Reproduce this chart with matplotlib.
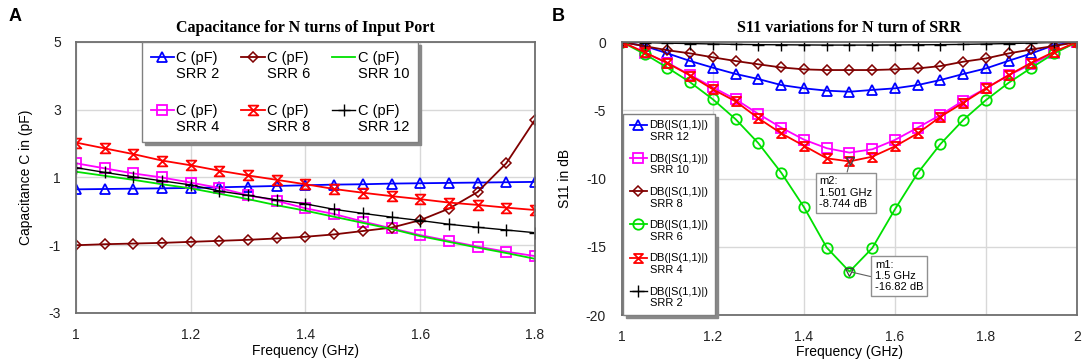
import numpy as np
import matplotlib
matplotlib.use("Agg")
import matplotlib.pyplot as plt
from matplotlib.path import Path
from matplotlib.legend_handler import HandlerLine2D
from matplotlib.transforms import Affine2D

plt.rcParams['font.family'] = ['Liberation Sans', 'DejaVu Sans']

# ---------------- data: panel A ----------------
freq_a = [1.00, 1.05, 1.10, 1.15, 1.20, 1.25, 1.30, 1.35, 1.40,
          1.45, 1.50, 1.55, 1.60, 1.65, 1.70, 1.75, 1.80]
cap_srr2 = [0.65, 0.66, 0.67, 0.68, 0.69, 0.71, 0.73, 0.75, 0.77,
            0.79, 0.80, 0.82, 0.83, 0.84, 0.85, 0.86, 0.87]
cap_srr4 = [1.42, 1.27, 1.12, 1.00, 0.85, 0.69, 0.48, 0.31, 0.09,
            -0.08, -0.30, -0.50, -0.70, -0.87, -1.04, -1.19, -1.32]
cap_srr6 = [-1.00, -0.97, -0.95, -0.93, -0.90, -0.87, -0.84, -0.80, -0.75,
            -0.68, -0.58, -0.48, -0.26, 0.08, 0.57, 1.42, 2.70]
cap_srr8 = [2.03, 1.86, 1.69, 1.50, 1.36, 1.20, 1.06, 0.93, 0.80,
            0.66, 0.55, 0.45, 0.36, 0.26, 0.19, 0.11, 0.04]
cap_srr10 = [1.17, 1.05, 0.93, 0.80, 0.68, 0.52, 0.36, 0.18, 0.02,
             -0.16, -0.34, -0.52, -0.73, -0.90, -1.07, -1.23, -1.40]
cap_srr12 = [1.29, 1.15, 1.02, 0.90, 0.78, 0.60, 0.47, 0.34, 0.22,
             0.06, -0.06, -0.17, -0.27, -0.38, -0.47, -0.55, -0.63]

# ---------------- data: panel B ----------------
freq_b = [1.00, 1.05, 1.10, 1.15, 1.20, 1.25, 1.30, 1.35, 1.40, 1.45, 1.50,
          1.55, 1.60, 1.65, 1.70, 1.75, 1.80, 1.85, 1.90, 1.95, 2.00]
s11_srr12 = [0.0, -0.29, -0.83, -1.39, -1.88, -2.34, -2.71, -3.15, -3.39, -3.56, -3.64,
             -3.51, -3.39, -3.15, -2.78, -2.34, -1.93, -1.37, -0.83, -0.22, 0.0]
s11_srr10 = [0.0, -0.78, -1.51, -2.42, -3.32, -4.20, -5.27, -6.27, -7.15, -7.78, -8.10,
             -7.86, -7.17, -6.27, -5.34, -4.30, -3.39, -2.42, -1.63, -0.78, 0.0]
s11_srr8 = [0.0, -0.30, -0.60, -0.83, -1.12, -1.39, -1.63, -1.86, -2.00, -2.05, -2.05,
            -2.05, -2.00, -1.93, -1.76, -1.44, -1.20, -0.83, -0.54, -0.29, 0.0]
s11_srr6 = [0.0, -0.88, -1.88, -2.95, -4.20, -5.66, -7.42, -9.57, -12.10, -15.06, -16.82,
            -15.10, -12.25, -9.60, -7.47, -5.71, -4.25, -2.98, -1.88, -0.83, 0.0]
s11_srr4 = [0.0, -0.75, -1.55, -2.45, -3.47, -4.35, -5.59, -6.69, -7.60, -8.52, -8.744,
            -8.40, -7.64, -6.69, -5.47, -4.45, -3.39, -2.42, -1.51, -0.71, 0.0]
s11_srr2 = [0.0, -0.04, -0.08, -0.11, -0.14, -0.17, -0.19, -0.20, -0.21, -0.22, -0.22,
            -0.22, -0.21, -0.20, -0.19, -0.17, -0.14, -0.11, -0.07, -0.03, 0.0]

BLUE = '#0000ff'
MAG = '#ff00ff'
DRED = '#800000'
GREEN = '#00e000'
RED = '#ff0000'
BLACK = '#000000'

hourglass = Path([(-1, 1), (1, 1), (-1, -1), (1, -1), (-1, 1)],
                 [Path.MOVETO, Path.LINETO, Path.LINETO, Path.LINETO, Path.CLOSEPOLY])


class UpHandler(HandlerLine2D):
    def __init__(self, shift, **kw):
        super().__init__(**kw)
        self.shift = shift

    def create_artists(self, legend, orig_handle, xdescent, ydescent, width,
                       height, fontsize, trans):
        t2 = Affine2D().translate(0, self.shift * fontsize) + trans
        return super().create_artists(legend, orig_handle, xdescent, ydescent,
                                      width, height, fontsize, t2)


fig = plt.figure(figsize=(10.84, 3.62), dpi=100)
axA = fig.add_axes([0.0701, 0.1354, 0.4234, 0.7486])
axB = fig.add_axes([0.5738, 0.1298, 0.4197, 0.7540])

SPINE = '#6e6e6e'
GRID = '#d8d8d8'

# ---------------- panel A ----------------
lw = 1.3
l2, = axA.plot(freq_a, cap_srr2, color=BLUE, lw=lw, marker='^', ms=7, mfc='none', mew=1.3)
l4, = axA.plot(freq_a, cap_srr4, color=MAG, lw=lw, marker='s', ms=7.5, mfc='none', mew=1.3)
l6, = axA.plot(freq_a, cap_srr6, color=DRED, lw=lw, marker='D', ms=5, mfc='none', mew=1.1)
l8, = axA.plot(freq_a, cap_srr8, color=RED, lw=lw, marker=hourglass, ms=7, mfc='none', mew=1.3)
l10, = axA.plot(freq_a, cap_srr10, color=GREEN, lw=lw)
l12, = axA.plot(freq_a, cap_srr12, color=BLACK, lw=1.0, marker='+', ms=8, mew=1.0)

axA.set_xlim(1.0, 1.8)
axA.set_ylim(-3, 5)
axA.set_xticks([1.0, 1.2, 1.4, 1.6, 1.8])
axA.set_xticklabels(['1', '1.2', '1.4', '1.6', '1.8'])
axA.set_yticks([5, 3, 1, -1, -3])
axA.set_yticklabels(['5', '3', '1', '-1', '-3'])
axA.grid(True, color=GRID, lw=1.0)
axA.set_axisbelow(True)
axA.tick_params(length=0, labelsize=10, colors='#222222')
axA.tick_params(axis='x', pad=10.5)
axA.tick_params(axis='y', pad=11)
axA.set_xlabel('Frequency (GHz)', fontsize=10, labelpad=2)
axA.set_ylabel('Capacitance C in (pF)', fontsize=10, labelpad=11)
axA.set_title('Capacitance for N turns of Input Port', fontsize=11.5,
              fontweight='bold', family='Liberation Serif', pad=7)
for s in axA.spines.values():
    s.set_color(SPINE)
    s.set_linewidth(1.3)

handlesA = [l2, l4, l6, l8, l10, l12]
labelsA = ['C (pF)\nSRR 2', 'C (pF)\nSRR 4', 'C (pF)\nSRR 6',
           'C (pF)\nSRR 8', 'C (pF)\nSRR 10', 'C (pF)\nSRR 12']
hm = {h: UpHandler(0.6) for h in handlesA}
legA = axA.legend(handlesA, labelsA, ncol=3, loc='upper left',
                  bbox_to_anchor=(0.1438, 1.0), borderaxespad=0.0,
                  fontsize=10.5, handlelength=1.6, handletextpad=0.15,
                  columnspacing=1.5, labelspacing=1.55, borderpad=0.6,
                  fancybox=False, shadow={'color': '#888888', 'alpha': 1},
                  framealpha=1, edgecolor='#808080', handler_map=hm)
legA.get_frame().set_linewidth(1.0)

# ---------------- panel B ----------------
b12, = axB.plot(freq_b, s11_srr12, color=BLUE, lw=lw, marker='^', ms=7, mfc='none', mew=1.3)
b10, = axB.plot(freq_b, s11_srr10, color=MAG, lw=lw, marker='s', ms=7.5, mfc='none', mew=1.3)
b8, = axB.plot(freq_b, s11_srr8, color=DRED, lw=lw, marker='D', ms=5, mfc='none', mew=1.1)
b6, = axB.plot(freq_b, s11_srr6, color=GREEN, lw=lw, marker='o', ms=7.5, mfc='none', mew=1.3)
b4, = axB.plot(freq_b, s11_srr4, color=RED, lw=lw, marker=hourglass, ms=6.5, mfc='none', mew=1.3)
b2, = axB.plot(freq_b, s11_srr2, color=BLACK, lw=1.0, marker='+', ms=9, mew=1.0)

axB.set_xlim(1.0, 2.0)
axB.set_ylim(-20, 0)
axB.set_xticks([1.0, 1.2, 1.4, 1.6, 1.8, 2.0])
axB.set_xticklabels(['1', '1.2', '1.4', '1.6', '1.8', '2'])
axB.set_yticks([0, -5, -10, -15, -20])
axB.set_yticklabels(['0', '-5', '-10', '-15', '-20'])
axB.grid(True, color=GRID, lw=1.0)
axB.set_axisbelow(True)
axB.tick_params(length=0, labelsize=10, colors='#222222')
axB.tick_params(axis='x', pad=10.5)
axB.tick_params(axis='y', pad=11.5)
axB.set_xlabel('Frequency (GHz)', fontsize=10, labelpad=1)
axB.set_ylabel('S11 in dB', fontsize=10, labelpad=10)
axB.set_title('S11 variations for N turn of SRR', fontsize=11.5,
              fontweight='bold', family='Liberation Serif', pad=7)
for s in axB.spines.values():
    s.set_color(SPINE)
    s.set_linewidth(1.3)

handlesB = [b12, b10, b8, b6, b4, b2]
labelsB = ['DB(|S(1,1)|)\nSRR 12', 'DB(|S(1,1)|)\nSRR 10', 'DB(|S(1,1)|)\nSRR 8',
           'DB(|S(1,1)|)\nSRR 6', 'DB(|S(1,1)|)\nSRR 4', 'DB(|S(1,1)|)\nSRR 2']
hmB = {h: UpHandler(0.6) for h in handlesB}
legB = axB.legend(handlesB, labelsB, loc='lower left', bbox_to_anchor=(0.002, 0.0),
                  borderaxespad=0.0, fontsize=8, handlelength=1.6,
                  handletextpad=0.2, labelspacing=1.05, borderpad=0.6,
                  fancybox=False, shadow={'color': '#888888', 'alpha': 1},
                  framealpha=1, edgecolor='#808080', handler_map=hmB)
legB.get_frame().set_linewidth(1.0)

# marker annotations
m1x, m1y = 1.5, -16.82
m2x, m2y = 1.501, -8.744
axB.plot([m1x, m2x], [m1y, m2y], linestyle='none', marker='v', ms=6,
         mfc='none', mec='#404040', mew=0.9, zorder=5)
bbox_kw = dict(boxstyle='square,pad=0.35', fc='white', ec='#909090', lw=1.0)
axB.annotate('m2:\n1.501 GHz\n-8.744 dB', xy=(m2x, m2y), xytext=(1.434, -9.85),
             fontsize=8, ha='left', va='top', bbox=bbox_kw, linespacing=1.15,
             arrowprops=dict(arrowstyle='-', color='#606060', lw=0.8,
                             relpos=(0.5, 1.0), shrinkA=0, shrinkB=2), zorder=6)
axB.annotate('m1:\n1.5 GHz\n-16.82 dB', xy=(m1x, m1y), xytext=(1.556, -15.95),
             fontsize=8, ha='left', va='top', bbox=bbox_kw, linespacing=1.15,
             arrowprops=dict(arrowstyle='-', color='#606060', lw=0.8,
                             relpos=(0.0, 0.45), shrinkA=0, shrinkB=2), zorder=6)

fig.text(0.008, 0.955, 'A', fontsize=13, fontweight='bold', va='center')
fig.text(0.509, 0.955, 'B', fontsize=13, fontweight='bold', va='center')

fig.savefig('out.png', dpi=100)
